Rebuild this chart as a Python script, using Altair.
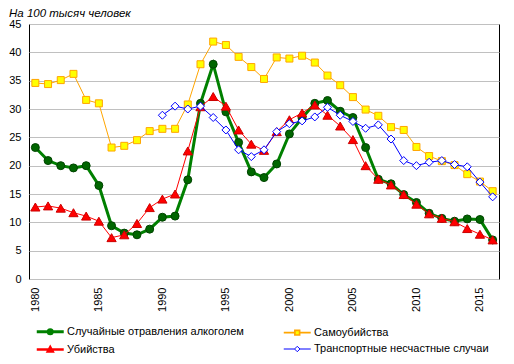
import altair as alt
import pandas as pd

title_text = "На 100 тысяч человек"

years = list(range(1980, 2017))
alcohol = [23.2, 20.9, 20.0, 19.6, 20.0, 16.5, 9.4, 8.1, 7.8, 8.8,
           10.9, 11.1, 17.5, 31.0, 37.9, 29.5, 24.1, 18.9, 17.9, 20.3,
           25.6, 28.4, 31.0, 31.5, 29.6, 28.5, 23.2, 17.6, 16.8, 14.9,
           13.5, 11.6, 10.7, 10.2, 10.6, 10.5, 6.9]
suicides = [34.6, 34.4, 35.1, 36.2, 31.6, 31.0, 23.2, 23.5, 24.5, 26.1,
            26.5, 26.5, 30.8, 37.9, 41.9, 41.3, 39.2, 37.4, 35.3, 39.1,
            38.9, 39.4, 38.2, 35.9, 34.2, 32.1, 29.9, 28.8, 26.8, 26.3,
            23.3, 21.7, 20.8, 20.1, 18.5, 17.2, 15.5]
homicides = [12.7, 12.9, 12.5, 11.7, 11.1, 10.2, 7.3, 7.8, 9.8, 12.6,
             14.1, 15.0, 22.6, 30.4, 32.2, 30.5, 26.3, 23.8, 22.7, 26.0,
             28.1, 29.3, 30.7, 28.9, 27.0, 24.6, 20.0, 17.6, 16.6, 14.9,
             13.2, 11.5, 10.7, 10.1, 8.9, 7.9, 6.9]
transport_years = list(range(1990, 2017))
transport = [28.9, 30.5, 30.0, 30.5, 28.5, 26.3, 22.8, 21.6, 22.8, 26.0,
             27.4, 27.9, 28.6, 30.3, 28.9, 27.8, 26.6, 27.2, 24.7, 20.9,
             20.0, 20.6, 20.9, 20.2, 19.8, 17.1, 14.5]

names = ["Случайные отравления алкоголем", "Самоубийства", "Убийства",
         "Транспортные несчастные случаи"]
line_colors = ["#008000", "#FFA500", "#FF0000", "#0000FF"]

# legend entries are laid out column by column
legend_names = [names[0], names[2], names[1], names[3]]
legend_strokes = ["#008000", "#FF0000", "#FFA500", "#0000FF"]
legend_fills = ["#006600", "#FF0000", "#FFFF00", "#FFFFFF"]
legend_widths = [3, 1, 1, 1]
legend_shapes = [
    "M-1,0H3M1.3,0A0.3,0.3,0,1,1,0.7,0A0.3,0.3,0,1,1,1.3,0Z",
    "M-1,0H3M0.62,0.3L1.38,0.3L1,-0.38Z",
    "M-1,0H0.65M1.35,0H3M0.65,-0.35H1.35V0.35H0.65Z",
    "M-1,0H0.6M1.4,0H3M0.6,0L1,-0.4L1.4,0L1,0.4Z",
]

rows = []
for n, ys, vs in [(names[0], years, alcohol), (names[1], years, suicides),
                  (names[2], years, homicides), (names[3], transport_years, transport)]:
    for yv, v in zip(ys, vs):
        rows.append({"series": n, "year": yv, "value": v})
df = pd.DataFrame(rows)

legend = alt.Legend(
    title=None, orient="none", legendX=6, legendY=299, columns=2,
    columnPadding=36, rowPadding=1.5, symbolSize=182, labelOffset=15,
    labelFontSize=11, labelLimit=300, padding=0, labelColor="black",
    symbolOpacity=1,
)

x = alt.X("year:Q", scale=alt.Scale(domain=[1979.5, 2016.5], nice=False, zero=False),
          axis=alt.Axis(values=list(range(1980, 2016, 5)), format="d", labelAngle=-90,
                        grid=False, ticks=False, domain=False, labelPadding=8,
                        labelFontSize=11, title=None, labelColor="black"))
y = alt.Y("value:Q", scale=alt.Scale(domain=[0, 45], nice=False),
          axis=alt.Axis(values=list(range(0, 50, 5)), grid=True, gridColor="#c0c0c0",
                        ticks=False, domain=False, labelPadding=8, labelFontSize=11,
                        title=None, labelColor="black"))

styles = {
    names[0]: dict(w=3, shape="circle", fill="#006600", stroke="#004400", size=64),
    names[1]: dict(w=1, shape="square", fill="#FFFF00", stroke="#FFA500", size=49),
    names[2]: dict(w=1, shape="triangle-up", fill="#FF0000", stroke="#CC0000", size=85),
    names[3]: dict(w=1, shape="diamond", fill="#FFFFFF", stroke="#0000FF", size=64),
}

layers = []
base = alt.Chart(df)
for n, lc in zip(names, line_colors):
    s = styles[n]
    b = base.transform_filter(alt.datum.series == n)
    layers.append(b.mark_line(strokeWidth=s["w"], color=lc).encode(x=x, y=y))
    layers.append(b.mark_point(shape=s["shape"], filled=True, fill=s["fill"],
                               stroke=s["stroke"], strokeWidth=1, size=s["size"],
                               opacity=1).encode(x=x, y=y))

# legend-only layer (no data rows pass the filter)
legend_layer = base.transform_filter("false").mark_point(filled=True, opacity=1).encode(
    x=x, y=y,
    fill=alt.Fill("series:N", scale=alt.Scale(domain=legend_names, range=legend_fills), legend=legend),
    stroke=alt.Stroke("series:N", scale=alt.Scale(domain=legend_names, range=legend_strokes), legend=legend),
    shape=alt.Shape("series:N", scale=alt.Scale(domain=legend_names, range=legend_shapes), legend=legend),
    strokeWidth=alt.StrokeWidth("series:N", scale=alt.Scale(domain=legend_names, range=legend_widths), legend=legend),
)
layers.append(legend_layer)

title_layer = alt.Chart(pd.DataFrame({"t": [title_text]})).mark_text(
    align="left", baseline="alphabetic", fontStyle="italic", fontSize=11.5,
    font="Liberation Sans", color="black",
).encode(x=alt.value(-20), y=alt.value(-7.5), text="t:N")
layers.append(title_layer)

chart = alt.layer(*layers).properties(
    width=470, height=255,
    autosize=alt.AutoSizeParams(type="none"),
    padding={"left": 21, "top": 16, "right": 5, "bottom": 77},
).configure(font="Liberation Sans").configure_view(stroke="black", strokeWidth=1)

chart.save("out.html", embed_options={"renderer": "svg", "actions": False})
